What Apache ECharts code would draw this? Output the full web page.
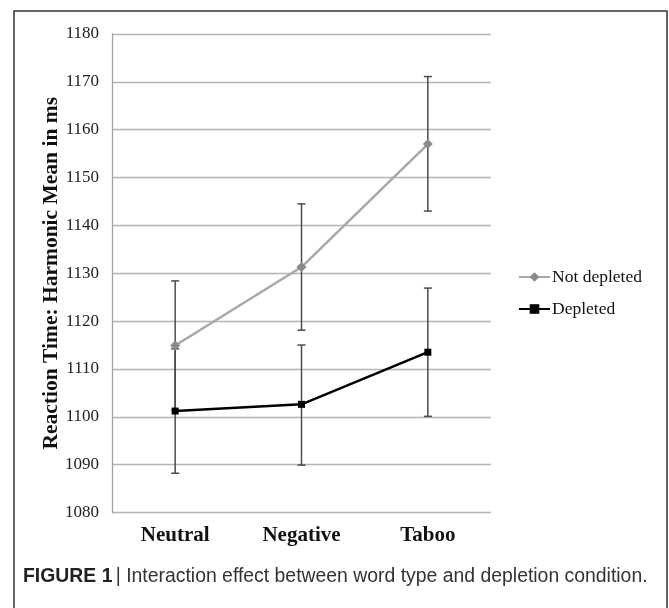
<!DOCTYPE html>
<html><head><meta charset="utf-8">
<script src="https://cdn.jsdelivr.net/npm/echarts@6/dist/echarts.min.js"></script>
<style>html,body{margin:0;padding:0;background:#fff}#c{width:669px;height:608px}</style>
</head><body><div id="c"></div>
<script>
var categories = ['Neutral', 'Negative', 'Taboo'];
var notDepleted = [1114.9, 1131.3, 1157.0];
var notDepletedLow = [1101.4, 1118.1, 1143.0];
var notDepletedHigh = [1128.4, 1144.5, 1171.1];
var depleted = [1101.2, 1102.6, 1113.5];
var depletedLow = [1088.2, 1089.9, 1100.1];
var depletedHigh = [1114.2, 1115.0, 1126.9];
var yTicks = [1080, 1090, 1100, 1110, 1120, 1130, 1140, 1150, 1160, 1170, 1180];

function errData(low, high) {
  return categories.map(function (c, i) { return [i, low[i], high[i]]; });
}
function errRender(params, api) {
  var x = api.value(0);
  var lo = api.coord([x, api.value(1)]);
  var hi = api.coord([x, api.value(2)]);
  var w = 4;
  var st = { stroke: '#4a4a4a', lineWidth: 1.5 };
  return { type: 'group', children: [
    { type: 'line', shape: { x1: lo[0], y1: lo[1], x2: hi[0], y2: hi[1] }, style: st },
    { type: 'line', shape: { x1: lo[0] - w, y1: lo[1], x2: lo[0] + w, y2: lo[1] }, style: st },
    { type: 'line', shape: { x1: hi[0] - w, y1: hi[1], x2: hi[0] + w, y2: hi[1] }, style: st }
  ]};
}

var chart = echarts.init(document.getElementById('c'));
chart.setOption({
  animation: false,
  backgroundColor: '#fff',
  graphic: [
    { type: 'rect', shape: { x: 14, y: 11, width: 653, height: 620 }, style: { fill: 'none', stroke: '#333', lineWidth: 1.5 }, z: -1 },
    { type: 'text', left: 23, top: 567, style: { text: '{b|FIGURE 1} {n|| Interaction effect between word type and depletion condition.}',
      rich: { b: { fontFamily: 'Liberation Sans', fontWeight: 'bold', fontSize: 19.4, fill: '#222' },
              n: { fontFamily: 'Liberation Sans', fontSize: 19.4, fill: '#333' } } } }
  ],
  grid: { left: 112, top: 34, width: 379, height: 478.5 },
  legend: {
    orient: 'vertical', left: 513, top: 263, itemWidth: 31, itemHeight: 12, itemGap: 14,
    textStyle: { fontFamily: 'Liberation Serif', fontSize: 17.5, color: '#111', padding: [0, 0, 0, -3] },
    data: ['Not depleted', 'Depleted']
  },
  xAxis: {
    type: 'category', data: categories, boundaryGap: true,
    axisLine: { show: false }, axisTick: { show: false },
    axisLabel: { fontFamily: 'Liberation Serif', fontWeight: 'bold', fontSize: 21, color: '#111', margin: 13 },
    splitLine: { show: false }
  },
  yAxis: {
    type: 'value', min: 1080, max: 1180, interval: 10,
    name: 'Reaction Time: Harmonic Mean in ms', nameLocation: 'middle', nameGap: 50, nameMoveOverlap: false,
    nameTextStyle: { fontFamily: 'Liberation Serif', fontWeight: 'bold', fontSize: 21.5, color: '#111' },
    axisLine: { show: true, lineStyle: { color: '#a0a0a0', width: 1.3 } }, axisTick: { show: false },
    axisLabel: { fontFamily: 'Liberation Serif', fontSize: 17, color: '#222', margin: 13,
      formatter: function (v) { return yTicks.indexOf(v) >= 0 ? String(v) : ''; } },
    splitLine: { show: true, lineStyle: { color: '#b4b4b4', width: 1.3 } }
  },
  series: [
    { type: 'custom', name: 'errND', renderItem: errRender, data: errData(notDepletedLow, notDepletedHigh), z: 3, silent: true },
    { type: 'custom', name: 'errD', renderItem: errRender, data: errData(depletedLow, depletedHigh), z: 3, silent: true },
    { type: 'line', name: 'Not depleted', data: notDepleted, symbol: 'diamond', symbolSize: 10,
      lineStyle: { color: '#a8a8a8', width: 2.5 }, itemStyle: { color: '#8a8a8a' }, z: 4 },
    { type: 'line', name: 'Depleted', data: depleted, symbol: 'rect', symbolSize: 7,
      lineStyle: { color: '#000', width: 2.5 }, itemStyle: { color: '#000' }, z: 5 }
  ]
});
</script></body></html>
